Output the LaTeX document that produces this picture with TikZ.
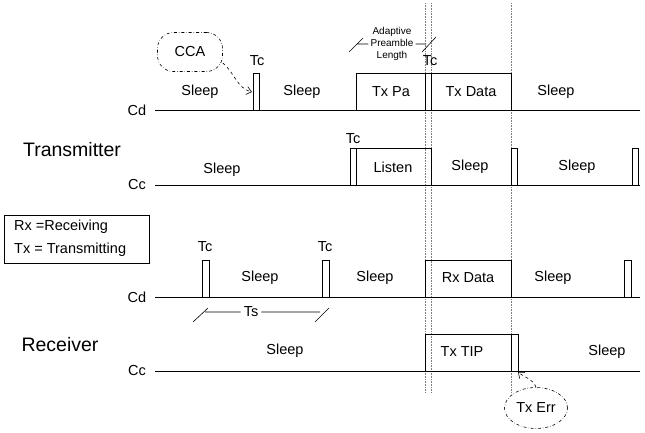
\documentclass[tikz,border=0pt]{standalone}
\usepackage{fontspec}
\setmainfont{Liberation Sans}
\usetikzlibrary{shapes,arrows.meta,positioning,calc}

\begin{document}
\begin{tikzpicture}[
    x=1pt, y=-1pt,
    lbl/.style={font=\fontsize{14.5}{17}\selectfont, inner sep=0pt},
    small/.style={font=\fontsize{10}{11}\selectfont, align=center, inner sep=0pt},
    side/.style={font=\fontsize{19.5}{22}\selectfont, inner sep=0pt},
    wave/.style={line width=0.8pt},
    marker/.style={densely dotted, gray, line width=0.6pt},
    cloud/.style={draw, dash dot, line width=0.6pt, font=\fontsize{14.5}{17}\selectfont},
    connector/.style={->, dashed, line width=0.6pt, >={Straight Barb[length=5pt,width=8pt]}}
]
    \useasboundingbox (0,0) rectangle (645,433);

    % Markers
    \draw[marker] (425,3) -- (425,392);
    \draw[marker] (431,3) -- (431,392);
    \draw[marker] (511,3) -- (511,392);

    % Transmitter Cd
    \draw[wave] (155,110) -- (640,110);
    \draw[wave] (253,110) rectangle (259,73);
    \draw[wave] (356,110) rectangle (425,73);
    \draw[wave] (425,110) rectangle (431,73);
    \draw[wave] (431,110) rectangle (511,73);
    % Transmitter Cc
    \draw[wave] (155,185) -- (640,185);
    \draw[wave] (350,185) rectangle (356,148);
    \draw[wave] (356,185) rectangle (431,148);
    \draw[wave] (511,185) rectangle (517,148);
    \draw[wave] (632,185) rectangle (638,148);
    % Receiver Cd
    \draw[wave] (155,297) -- (640,297);
    \draw[wave] (202,297) rectangle (209,260);
    \draw[wave] (322,297) rectangle (329,260);
    \draw[wave] (425,297) rectangle (511,260);
    \draw[wave] (624,297) rectangle (631,260);
    % Receiver Cc
    \draw[wave] (155,371) -- (640,371);
    \draw[wave] (425,371) rectangle (511,334);
    \draw[wave] (511,371) rectangle (518,334);

    % Nodes
    \node[side] (tx) at (72,150) {Transmitter};
    \node[side] (rx) at (60,345) {Receiver};
    \node[lbl] (cd1) at (137,110) {Cd};
    \node[lbl] (cc1) at (137,185) {Cc};
    \node[lbl] (cd2) at (137,297) {Cd};
    \node[lbl] (cc2) at (137,371) {Cc};

    \node[lbl] (s1) at (200,92) {Sleep};
    \node[lbl] (s2) at (302,92) {Sleep};
    \node[lbl] (txpa) at (391,92) {Tx Pa};
    \node[lbl] (txdata) at (471,92) {Tx Data};
    \node[lbl] (s3) at (556,92) {Sleep};
    \node[lbl] (tc1) at (257,61) {Tc};
    \node[lbl] (tc2) at (430,61) {Tc};

    \node[lbl] (s4) at (222,170) {Sleep};
    \node[lbl] (listen) at (393,167) {Listen};
    \node[lbl] (s5) at (470,167) {Sleep};
    \node[lbl] (s6) at (577,167) {Sleep};
    \node[lbl] (tc3) at (353,139) {Tc};

    \node[lbl] (s7) at (260,278) {Sleep};
    \node[lbl] (s8) at (375,278) {Sleep};
    \node[lbl] (rxdata) at (468,278) {Rx Data};
    \node[lbl] (s9) at (553,278) {Sleep};
    \node[lbl] (tc4) at (205,247) {Tc};
    \node[lbl] (tc5) at (325,247) {Tc};

    \node[lbl] (s10) at (285,351) {Sleep};
    \node[lbl] (txtip) at (462,352) {Tx TIP};
    \node[lbl] (s11) at (607,352) {Sleep};

    \node[draw, line width=0.6pt, minimum width=145pt, minimum height=48pt, inner sep=0pt] (key) at (77,239) {};
    \node[lbl, anchor=west] (key1) at (14,227) {Rx =Receiving};
    \node[lbl, anchor=west] (key2) at (14,250) {Tx = Transmitting};

    \node[small] (apl) at (392,44) {Adaptive\\[1pt]Preamble\\[1pt]Length};
    \node[lbl] (ts) at (251,312) {Ts};

    \node[cloud, rounded corners=16pt, minimum width=65pt, minimum height=39pt] (cca) at (190,52) {CCA};
    \node[cloud, ellipse, minimum width=63pt, minimum height=41pt, inner sep=0pt] (txerr) at (536,408) {Tx Err};

    \coordinate (ccaend) at (252,92);
    \coordinate (errend) at (518,372);

    % Dimensions
    \draw[line width=0.6pt] (349,52) -- (363,38) (357,44) -- ([xshift=-2pt]apl.west |- 357,44);
    \draw[line width=0.6pt] (422,52) -- (436,37) ([xshift=2pt]apl.east |- 416,44) -- (426,44);
    \draw[line width=0.6pt] (193,322) -- (208,308) (205,312) -- ([xshift=-3pt]ts.west);
    \draw[line width=0.6pt] (315,322) -- (329,308) ([xshift=3pt]ts.east) -- (320,312);

    % Connections
    \draw[connector] ([yshift=-11pt]cca.east) to[out=-40, in=165] (ccaend);
    \draw[connector] (txerr.north) to[out=110, in=-40] (errend);
\end{tikzpicture}
\end{document}
